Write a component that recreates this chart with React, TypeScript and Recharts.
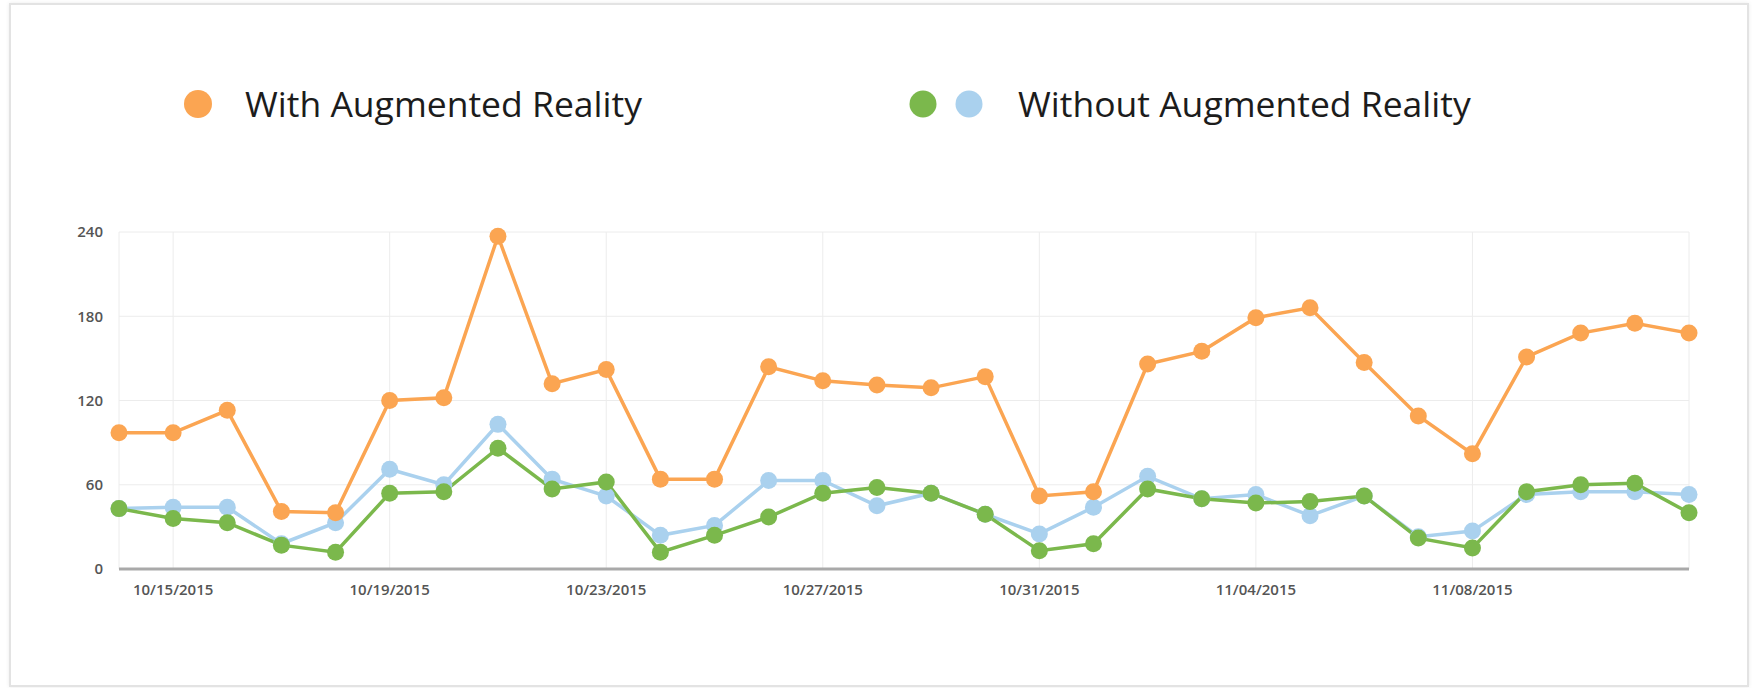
import React from 'react';
import { LineChart, Line, XAxis, YAxis, CartesianGrid, Legend } from 'recharts';

const dates = [
  '10/14/2015', '10/15/2015', '10/16/2015', '10/17/2015', '10/18/2015',
  '10/19/2015', '10/20/2015', '10/21/2015', '10/22/2015', '10/23/2015',
  '10/24/2015', '10/25/2015', '10/26/2015', '10/27/2015', '10/28/2015',
  '10/29/2015', '10/30/2015', '10/31/2015', '11/01/2015', '11/02/2015',
  '11/03/2015', '11/04/2015', '11/05/2015', '11/06/2015', '11/07/2015',
  '11/08/2015', '11/09/2015', '11/10/2015', '11/11/2015', '11/12/2015',
];

const withAR = [97, 97, 113, 41, 40, 120, 122, 237, 132, 142, 64, 64, 144, 134, 131, 129, 137, 52, 55, 146, 155, 179, 186, 147, 109, 82, 151, 168, 175, 168];
const withoutARBlue = [43, 44, 44, 18, 33, 71, 60, 103, 64, 52, 24, 31, 63, 63, 45, 54, 39, 25, 44, 66, 50, 53, 38, 52, 23, 27, 53, 55, 55, 53];
const withoutARGreen = [43, 36, 33, 17, 12, 54, 55, 86, 57, 62, 12, 24, 37, 54, 58, 54, 39, 13, 18, 57, 50, 47, 48, 52, 22, 15, 55, 60, 61, 40];

const dateTicks = ['10/15/2015', '10/19/2015', '10/23/2015', '10/27/2015', '10/31/2015', '11/04/2015', '11/08/2015'];
const valueTicks = [0, 60, 120, 180, 240];

const ORANGE = '#FBA552';
const GREEN = '#7BB84C';
const BLUE = '#AAD1EE';

const data = dates.map((date, i) => ({
  date,
  withAR: withAR[i],
  blue: withoutARBlue[i],
  green: withoutARGreen[i],
}));

const font = '"Open Sans", sans-serif';

const renderLegend = () => (
  <svg width={1761} height={150} style={{ display: 'block' }}>
    <circle cx={198} cy={104} r={14} fill={ORANGE} />
    <text x={245} y={117} fontFamily={font} fontSize={35.5} fill="#1c1c1c">With Augmented Reality</text>
    <circle cx={923} cy={104} r={13.5} fill={GREEN} />
    <circle cx={969} cy={104} r={13.5} fill={BLUE} />
    <text x={1018} y={117} fontFamily={font} fontSize={35.5} fill="#1c1c1c">Without Augmented Reality</text>
  </svg>
);

const tickStyle = { fontFamily: font, fontSize: 15, fontWeight: 600, fill: '#555' };

export default function App() {
  return (
    <div style={{ position: 'absolute', left: 0, top: 0, width: 1761, height: 688, background: '#fff' }}>
      {/* card frame */}
      <div
        style={{
          position: 'absolute',
          left: 9,
          top: 3,
          width: 1736,
          height: 680,
          border: '2px solid #e3e3e3',
          boxShadow: '0 0 4px rgba(0,0,0,0.08)',
          background: '#fff',
        }}
      />
      <div style={{ position: 'absolute', left: 0, top: 0 }}>
        <LineChart
          width={1761}
          height={688}
          data={data}
          margin={{ top: 232, right: 72, bottom: 89, left: 79 }}
        >
          <CartesianGrid stroke="#ececec" strokeWidth={1} />
          <XAxis
            dataKey="date"
            ticks={dateTicks}
            interval={0}
            tickLine={false}
            tickMargin={9}
            height={30}
            axisLine={{ stroke: '#a9a9a9', strokeWidth: 3 }}
            tick={tickStyle}
          />
          <YAxis
            domain={[0, 240]}
            ticks={valueTicks}
            width={40}
            tickLine={false}
            axisLine={false}
            tickMargin={10}
            tick={tickStyle}
          />
          <Legend
            layout="horizontal"
            verticalAlign="middle"
            align="center"
            content={renderLegend}
            wrapperStyle={{ left: 0, top: 0, width: 1761, height: 150 }}
          />
          <Line
            dataKey="blue"
            stroke={BLUE}
            strokeWidth={3.5}
            dot={{ r: 8.5, fill: BLUE, stroke: 'none' }}
            activeDot={false}
            isAnimationActive={false}
          />
          <Line
            dataKey="green"
            stroke={GREEN}
            strokeWidth={3.5}
            dot={{ r: 8.5, fill: GREEN, stroke: 'none' }}
            activeDot={false}
            isAnimationActive={false}
          />
          <Line
            dataKey="withAR"
            stroke={ORANGE}
            strokeWidth={3.5}
            dot={{ r: 8.5, fill: ORANGE, stroke: 'none' }}
            activeDot={false}
            isAnimationActive={false}
          />
        </LineChart>
      </div>
    </div>
  );
}
